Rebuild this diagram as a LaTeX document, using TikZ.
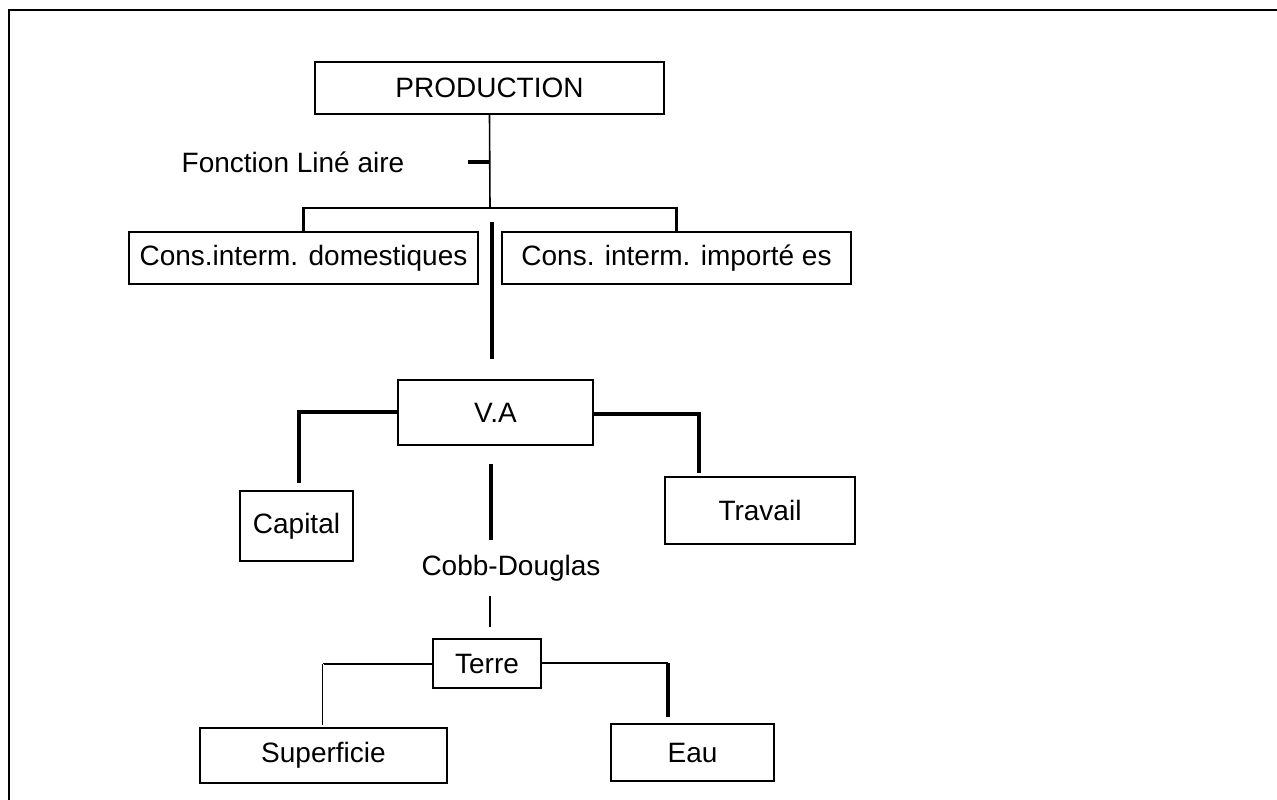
\documentclass[tikz,border=0pt]{standalone}
\usepackage{fontspec}
\setmainfont{Liberation Sans}
\usetikzlibrary{positioning}

\begin{document}
\begin{tikzpicture}[x=1pt,y=-1pt,
    every node/.style={font=\fontsize{28}{32}\selectfont},
    box/.style={draw, line width=1.8pt, inner sep=0pt},
    thinline/.style={line width=1.6pt},
    thickline/.style={line width=3.2pt},
    barline/.style={line width=2.6pt}
    ]
    \useasboundingbox (0,0) rectangle (1277,800);
    % frame
    \draw[line width=2.6pt] (9,805) -- (9,10) -- (1290,10);

    \node[box, minimum width=349pt, minimum height=52pt] (prod) at (489.5,88) {PRODUCTION};
    \node (lin) at (293,162) {Fonction Liné aire};
    \node[box, minimum width=349pt, minimum height=52pt] (dom) at (303.5,258) {Cons.interm. domestiques};
    \node[box, minimum width=349pt, minimum height=52pt] (imp) at (676.5,258) {Cons. interm. importé es};
    \node[box, minimum width=195pt, minimum height=65pt] (va) at (495.5,412.5) {V.A};
    \node[box, minimum width=113pt, minimum height=70pt] (capital) at (296.5,526) {Capital};
    \node[box, minimum width=190pt, minimum height=67pt] (travail) at (760,510.5) {Travail};
    \node (cobb) at (511,568) {Cobb-Douglas};
    \node[box, minimum width=108pt, minimum height=49pt] (terre) at (487,663.5) {Terre};
    \node[box, minimum width=247pt, minimum height=55pt] (superf) at (323.5,755.5) {Superficie};
    \node[box, minimum width=163pt, minimum height=57pt] (eau) at (692.5,752.5) {Eau};

    \coordinate (prod-bar) at (490,208);
    \coordinate (lin-tick) at (490,162);
    \coordinate (mid-top) at (492,222);
    \coordinate (mid-bot) at (492,359);
    \coordinate (cap-end) at (299,483);
    \coordinate (trav-end) at (699,473);
    \coordinate (va-top) at (491,464);
    \coordinate (va-bot) at (491,540);
    \coordinate (terre-top) at (490,596);
    \coordinate (terre-up) at (490,627);
    \coordinate (sup-end) at (323,725);
    \coordinate (eau-end) at (668,717);

    \draw[thinline] (prod.south) -- (prod-bar);
    \draw[thickline] (lin-tick) -- ++(-22,0);
    \draw[barline] (dom.north) |- (prod-bar) -| (imp.north);
    \draw[thickline] (mid-top) -- (mid-bot);
    \draw[thickline] (va.west |- 0,412) -| (cap-end);
    \draw[thickline] (va.east |- 0,414) -| (trav-end);
    \draw[thickline] (va-top) -- (va-bot);
    \draw[thinline] (terre-top) -- (terre-up);
    \draw[thinline] (terre.west |- 0,664) -- (sup-end |- 0,664);
    \draw[line width=0.8pt, double distance=1pt] (sup-end |- 0,664) -- (sup-end);
    \draw[thinline] (terre.east |- 0,663) -- (eau-end |- 0,663);
    \draw[thickline] (eau-end |- 0,663) -- (eau-end);
\end{tikzpicture}
\end{document}
